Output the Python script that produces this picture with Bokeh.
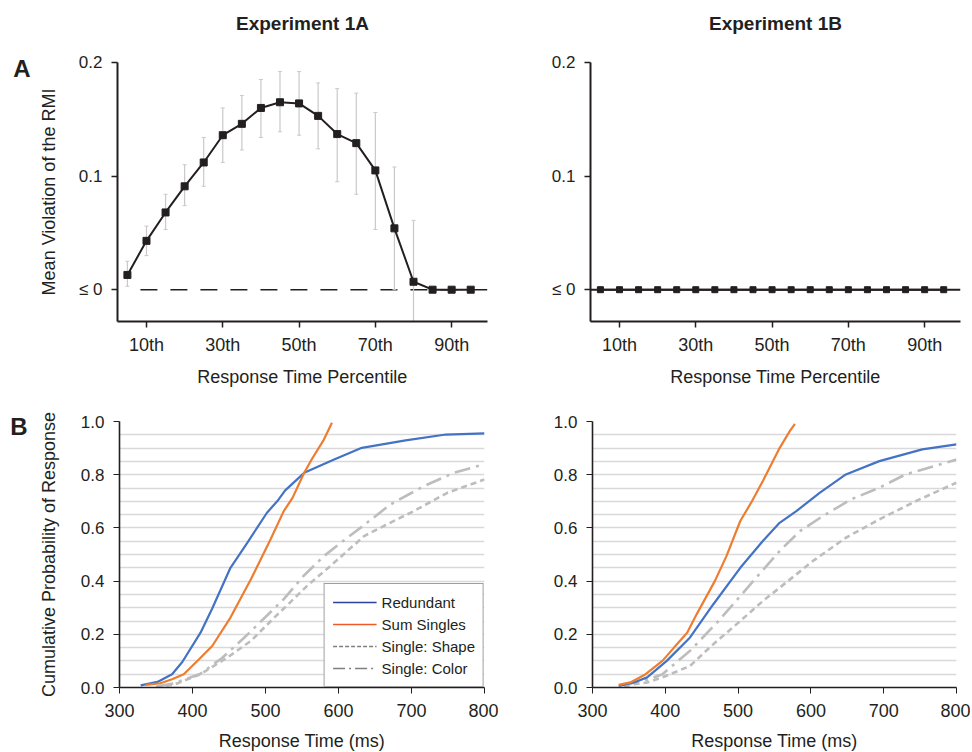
from bokeh.plotting import figure
from bokeh.models import FixedTicker, Legend, LegendItem, Span, ColumnDataSource, LinearAxis
from bokeh.layouts import column, row
from bokeh.embed import file_html
from bokeh.resources import INLINE

# ---------------- Panel A data (RMI violation) ----------------
percentiles = [5, 10, 15, 20, 25, 30, 35, 40, 45, 50, 55, 60, 65, 70, 75, 80, 85, 90, 95]
nan = float("nan")
rmi_1a = [0.013, 0.043, 0.068, 0.091, 0.112, 0.136, 0.146, 0.160, 0.165, 0.164, 0.153,
          0.137, 0.129, 0.105, 0.054, 0.007, 0.0, 0.0, 0.0]
rmi_1a_upper = [0.025, 0.056, 0.084, 0.110, 0.134, 0.160, 0.171, 0.185, 0.192, 0.192, 0.182,
                0.177, 0.173, 0.156, 0.108, 0.061, nan, nan, nan]
rmi_1a_lower = [0.003, 0.030, 0.053, 0.074, 0.091, 0.112, 0.123, 0.134, 0.139, 0.136, 0.124,
                0.095, 0.084, 0.053, 0.0, -0.045, nan, nan, nan]
rmi_1b = [0.0, 0.0, 0.0, 0.0, 0.0, 0.0, 0.0, 0.0, 0.0, 0.0, 0.0, 0.0, 0.0, 0.0, 0.0, 0.0, 0.0, 0.0, 0.0]

pct_ticks = [10, 30, 50, 70, 90]
pct_labels = ["10th", "30th", "50th", "70th", "90th"]
rmi_ticks = [0, 0.1, 0.2]
rmi_labels = ["\u2264 0", "0.1", "0.2"]

# ---------------- Panel B data (cumulative probability) ----------------
red_1a_x = [329, 352, 372, 386, 411, 427, 452, 475, 502, 516, 527, 553, 594, 632, 692, 747, 800]
red_1a_y = [0.008, 0.021, 0.05, 0.096, 0.206, 0.297, 0.45, 0.544, 0.657, 0.70, 0.741, 0.807,
            0.857, 0.901, 0.929, 0.951, 0.955]
sum_1a_x = [336, 356, 372, 388, 409, 427, 452, 480, 507, 525, 537, 553, 564, 580, 591]
sum_1a_y = [0.01, 0.016, 0.031, 0.05, 0.106, 0.156, 0.263, 0.407, 0.557, 0.663, 0.713, 0.807,
            0.861, 0.932, 0.995]
shape_1a_x = [350, 374, 411, 448, 480, 511, 530, 557, 589, 635, 662, 703, 749, 800]
shape_1a_y = [0.003, 0.01, 0.05, 0.113, 0.175, 0.26, 0.31, 0.382, 0.457, 0.569, 0.607, 0.663,
              0.732, 0.782]
color_1a_x = [352, 375, 411, 440, 470, 500, 525, 552, 580, 603, 630, 671, 717, 758, 800]
color_1a_y = [0.005, 0.016, 0.052, 0.11, 0.185, 0.265, 0.332, 0.419, 0.494, 0.544, 0.60,
              0.688, 0.757, 0.807, 0.84]

red_1b_x = [336, 357, 375, 402, 434, 466, 503, 534, 557, 580, 612, 648, 694, 753, 800]
red_1b_y = [0.006, 0.019, 0.038, 0.10, 0.188, 0.313, 0.45, 0.551, 0.619, 0.663, 0.732, 0.801,
            0.851, 0.895, 0.914]
sum_1b_x = [336, 352, 373, 396, 412, 430, 443, 468, 484, 503, 519, 534, 557, 571, 578]
sum_1b_y = [0.01, 0.019, 0.05, 0.10, 0.15, 0.206, 0.275, 0.40, 0.494, 0.626, 0.70, 0.776, 0.90,
            0.964, 0.991]
shape_1b_x = [343, 357, 375, 396, 434, 466, 503, 534, 557, 603, 648, 694, 749, 800]
shape_1b_y = [0.004, 0.012, 0.019, 0.038, 0.081, 0.163, 0.25, 0.325, 0.375, 0.476, 0.563,
              0.632, 0.707, 0.77]
color_1b_x = [343, 357, 371, 396, 434, 471, 503, 557, 585, 616, 655, 694, 730, 800]
color_1b_y = [0.006, 0.019, 0.025, 0.05, 0.138, 0.244, 0.344, 0.513, 0.588, 0.644, 0.707,
              0.751, 0.801, 0.857]

prob_ticks = [0.0, 0.2, 0.4, 0.6, 0.8, 1.0]
prob_labels = ["0.0", "0.2", "0.4", "0.6", "0.8", "1.0"]
rt_ticks = [300, 400, 500, 600, 700, 800]
series_names = ["Redundant", "Sum Singles", "Single: Shape", "Single: Color"]

# ---------------- style ----------------
FONT = "Liberation Sans"
TXT = "#231F20"
BLUE = "#4472C4"
ORANGE = "#ED7D31"
GRAY = "#BDBDBD"

A_XR = (2.4, 99.4)
A_YR = (-0.028, 0.2)
A_FW, A_FH = 370, 259
B_XR = (300, 800)
B_YR = (0, 1)
B_FH = 266


def style_axes(p):
    for ax in (p.xaxis[0], p.yaxis[0]):
        ax.axis_line_color = TXT
        ax.major_tick_line_color = TXT
        ax.minor_tick_line_color = None
        ax.major_tick_in = 0
        ax.major_tick_out = 6
        ax.major_label_text_font = FONT
        ax.major_label_text_color = TXT
        ax.axis_label_text_font = FONT
        ax.axis_label_text_color = TXT
        ax.axis_label_text_font_style = "normal"
        ax.axis_label_text_font_size = "18px"


def text_axis(p, side, pos, text, size, standoff):
    """A tick-less axis that carries one bold text (panel title / panel letter)."""
    ax = LinearAxis(ticker=FixedTicker(ticks=[pos], minor_ticks=[]),
                    major_label_overrides={pos: text},
                    axis_line_color=None, major_tick_line_color=None, minor_tick_line_color=None,
                    major_tick_in=0, major_tick_out=0, major_label_standoff=standoff,
                    major_label_text_font=FONT, major_label_text_font_size=size,
                    major_label_text_font_style="bold", major_label_text_color=TXT)
    p.add_layout(ax, side)


def panel_a(title, ys, upper, lower, ylabel, dashed, bl, br):
    p = figure(frame_width=A_FW, frame_height=A_FH, x_range=A_XR, y_range=A_YR,
               output_backend="svg", toolbar_location=None,
               min_border_left=bl, min_border_right=br, min_border_top=62, min_border_bottom=70)
    p.outline_line_color = None
    p.grid.visible = False
    style_axes(p)
    p.xaxis.ticker = FixedTicker(ticks=pct_ticks, minor_ticks=[])
    p.xaxis.major_label_overrides = dict(zip(pct_ticks, pct_labels))
    p.yaxis.ticker = FixedTicker(ticks=rmi_ticks, minor_ticks=[])
    p.yaxis.major_label_overrides = dict(zip(rmi_ticks, rmi_labels))
    p.xaxis.axis_line_width = 2
    p.yaxis.axis_line_width = 2
    p.xaxis.major_tick_line_width = 1.5
    p.yaxis.major_tick_line_width = 1.5
    p.xaxis.major_label_text_font_size = "18px"
    p.yaxis.major_label_text_font_size = "17px"
    p.xaxis.major_label_standoff = 7
    p.yaxis.major_label_standoff = 9
    p.xaxis.axis_label = "Response Time Percentile"
    p.xaxis.axis_label_standoff = 9
    if ylabel:
        p.yaxis.axis_label = ylabel
        p.yaxis.axis_label_standoff = 17
    text_axis(p, "above", (A_XR[0] + A_XR[1]) / 2, title, "19px", 29)

    if dashed:
        p.line([percentiles[0], 100], [0, 0], line_color=TXT, line_width=1.6,
               line_dash="17 13", line_dash_offset=17)
    else:
        p.add_layout(Span(location=0, dimension="width", line_color=TXT, line_width=2))

    if upper is not None:
        p.segment(x0=percentiles, y0=lower, x1=percentiles, y1=upper,
                  line_color="#C9C9C9", line_width=1.2)
        p.scatter(percentiles, upper, marker="dash", size=4, line_color="#C9C9C9", line_width=1)
        p.scatter(percentiles, lower, marker="dash", size=4, line_color="#C9C9C9", line_width=1)

    p.line(percentiles, ys, line_color=TXT, line_width=2)
    p.scatter(percentiles, ys, marker="square", size=7 if dashed else 6,
              fill_color=TXT, line_color=TXT)
    return p


def panel_b(red, summ, shape, color, ylabel, bl, br, fw, legend):
    p = figure(frame_width=fw, frame_height=B_FH, x_range=B_XR, y_range=B_YR,
               output_backend="svg", toolbar_location=None,
               min_border_left=bl, min_border_right=br, min_border_top=30, min_border_bottom=60)
    p.outline_line_color = None
    p.xgrid.visible = False
    p.ygrid.ticker = FixedTicker(ticks=[k / 20 for k in range(1, 21)])
    p.ygrid.grid_line_color = "#D9D9D9"
    p.ygrid.grid_line_width = 1.6
    style_axes(p)
    p.xaxis.ticker = FixedTicker(ticks=rt_ticks, minor_ticks=[])
    p.yaxis.ticker = FixedTicker(ticks=prob_ticks, minor_ticks=[])
    p.yaxis.major_label_overrides = dict(zip(prob_ticks, prob_labels))
    p.xaxis.axis_line_width = 1.6
    p.yaxis.axis_line_width = 1.6
    p.xaxis.major_label_text_font_size = "18px"
    p.yaxis.major_label_text_font_size = "17px"
    p.xaxis.major_label_standoff = 10
    p.yaxis.major_label_standoff = 9
    p.xaxis.axis_label = "Response Time (ms)"
    p.xaxis.axis_label_standoff = 11
    if ylabel:
        p.yaxis.axis_label = ylabel
        p.yaxis.axis_label_standoff = 19

    p.line(shape[0], shape[1], line_color=GRAY, line_width=2.6, line_dash="6 4")
    p.line(color[0], color[1], line_color=GRAY, line_width=2.6, line_dash="16 6 3 6")
    p.line(red[0], red[1], line_color=BLUE, line_width=2.2)
    p.line(summ[0], summ[1], line_color=ORANGE, line_width=2.2)

    if legend:
        dummy = dict(x=[nan], y=[nan])
        g1 = p.line("x", "y", source=ColumnDataSource(dummy), line_color="#2E3F9E", line_width=1.6)
        g2 = p.line("x", "y", source=ColumnDataSource(dummy), line_color="#F0582A", line_width=1.6)
        g3 = p.line("x", "y", source=ColumnDataSource(dummy), line_color="#7F7F7F", line_width=1.4,
                    line_dash="4 2")
        g4 = p.line("x", "y", source=ColumnDataSource(dummy), line_color="#7F7F7F", line_width=1.4,
                    line_dash="12 4 2 4")
        items = [LegendItem(label=n, renderers=[g]) for n, g in zip(series_names, [g1, g2, g3, g4])]
        lg = Legend(items=items, location="bottom_right", margin=0, padding=8, spacing=2,
                    glyph_width=44, glyph_height=20, label_height=20, label_standoff=5,
                    border_line_color="#404040", border_line_width=1.2,
                    background_fill_color="white", background_fill_alpha=1,
                    label_text_font=FONT, label_text_font_size="15px", label_text_color=TXT)
        p.add_layout(lg, "center")
    return p


pA1 = panel_a("Experiment 1A", rmi_1a, rmi_1a_upper, rmi_1a_lower,
              "Mean Violation of the RMI", True, 117, 11)
pA2 = panel_a("Experiment 1B", rmi_1b, None, None, None, False, 92, 10)
pB1 = panel_b((red_1a_x, red_1a_y), (sum_1a_x, sum_1a_y), (shape_1a_x, shape_1a_y),
              (color_1a_x, color_1a_y), "Cumulative Probability of Response", 119, 14, 365, True)
pB2 = panel_b((red_1b_x, red_1b_y), (sum_1b_x, sum_1b_y), (shape_1b_x, shape_1b_y),
              (color_1b_x, color_1b_y), None, 94, 14, 364, False)

# panel letters, a few pixels below the top of each frame
text_axis(pA1, "left", A_YR[1] - 6 * (A_YR[1] - A_YR[0]) / A_FH, "A", "24px", 5)
text_axis(pB1, "left", B_YR[1] - 5 * (B_YR[1] - B_YR[0]) / B_FH, "B", "24px", 8)

layout = column(row(pA1, pA2), row(pB1, pB2))
open("out.html", "w").write(file_html(layout, INLINE))
